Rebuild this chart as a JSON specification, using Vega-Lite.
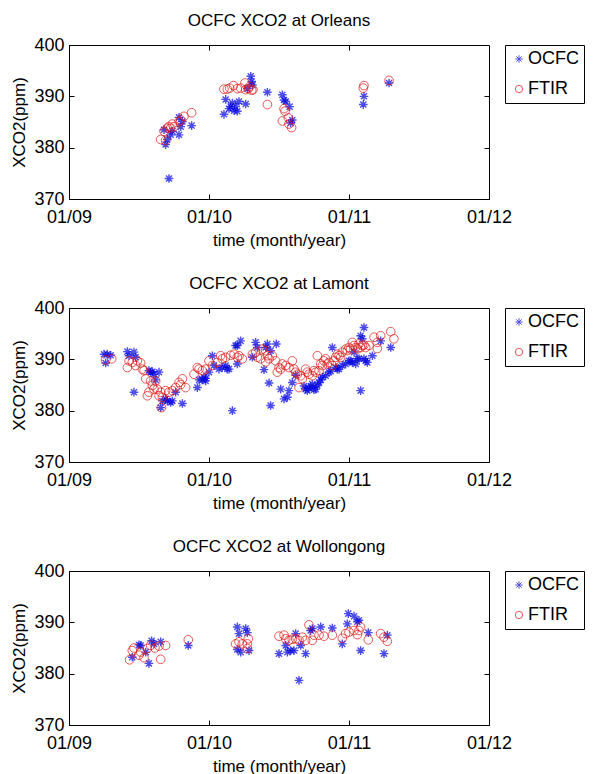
{
"$schema":"https://vega.github.io/schema/vega-lite/v6.json",
"background":"white",
"padding":{"left":10,"top":11,"right":0,"bottom":5},
"config":{
 "font":"Liberation Sans",
 "view":{"stroke":"black","strokeWidth":1},
 "axis":{"grid":false,"domainColor":"black","tickColor":"black","labelColor":"black","titleColor":"black","labelFontSize":18,"titleFontSize":17,"titleFontWeight":"normal","tickSize":-5,"labelFlush":false,"labelOverlap":false},
 "title":{"fontSize":17,"fontWeight":"normal","color":"black","offset":6},
 "legend":{"orient":"right","offset":15,"strokeColor":"black","fillColor":"white","padding":5,"symbolOffset":0,"labelFontSize":18,"labelColor":"black","symbolSize":55,"rowPadding":12,"symbolStrokeWidth":1,"labelOffset":0}
},
"spacing":25,
"resolve":{"legend":{"color":"independent","shape":"independent"}},
"data":{"values":[
{"s":"Orleans","k":"OCFC","t":2009.714,"v":374.0},
{"s":"Orleans","k":"OCFC","t":2009.690,"v":380.6},
{"s":"Orleans","k":"OCFC","t":2009.702,"v":381.6},
{"s":"Orleans","k":"OCFC","t":2009.726,"v":382.5},
{"s":"Orleans","k":"OCFC","t":2009.738,"v":383.2},
{"s":"Orleans","k":"OCFC","t":2009.786,"v":382.5},
{"s":"Orleans","k":"OCFC","t":2009.798,"v":384.1},
{"s":"Orleans","k":"OCFC","t":2009.810,"v":385.1},
{"s":"Orleans","k":"OCFC","t":2009.876,"v":384.3},
{"s":"Orleans","k":"OCFC","t":2009.786,"v":385.9},
{"s":"Orleans","k":"OCFC","t":2009.679,"v":383.5},
{"s":"Orleans","k":"OCFC","t":2010.107,"v":386.5},
{"s":"Orleans","k":"OCFC","t":2010.119,"v":389.4},
{"s":"Orleans","k":"OCFC","t":2010.143,"v":387.6},
{"s":"Orleans","k":"OCFC","t":2010.155,"v":388.0},
{"s":"Orleans","k":"OCFC","t":2010.167,"v":388.7},
{"s":"Orleans","k":"OCFC","t":2010.179,"v":387.2},
{"s":"Orleans","k":"OCFC","t":2010.190,"v":388.0},
{"s":"Orleans","k":"OCFC","t":2010.202,"v":387.1},
{"s":"Orleans","k":"OCFC","t":2010.214,"v":389.0},
{"s":"Orleans","k":"OCFC","t":2010.262,"v":388.5},
{"s":"Orleans","k":"OCFC","t":2010.274,"v":391.5},
{"s":"Orleans","k":"OCFC","t":2010.298,"v":393.9},
{"s":"Orleans","k":"OCFC","t":2010.305,"v":392.9},
{"s":"Orleans","k":"OCFC","t":2010.310,"v":392.2},
{"s":"Orleans","k":"OCFC","t":2010.417,"v":390.8},
{"s":"Orleans","k":"OCFC","t":2010.524,"v":390.3},
{"s":"Orleans","k":"OCFC","t":2010.536,"v":389.3},
{"s":"Orleans","k":"OCFC","t":2010.548,"v":389.0},
{"s":"Orleans","k":"OCFC","t":2010.576,"v":388.0},
{"s":"Orleans","k":"OCFC","t":2010.595,"v":385.4},
{"s":"Orleans","k":"OCFC","t":2010.583,"v":384.8},
{"s":"Orleans","k":"OCFC","t":2011.107,"v":390.0},
{"s":"Orleans","k":"OCFC","t":2011.102,"v":388.4},
{"s":"Orleans","k":"OCFC","t":2011.286,"v":392.6},
{"s":"Orleans","k":"FTIR","t":2009.655,"v":381.6},
{"s":"Orleans","k":"FTIR","t":2009.679,"v":383.2},
{"s":"Orleans","k":"FTIR","t":2009.690,"v":381.4},
{"s":"Orleans","k":"FTIR","t":2009.702,"v":383.8},
{"s":"Orleans","k":"FTIR","t":2009.714,"v":384.1},
{"s":"Orleans","k":"FTIR","t":2009.726,"v":383.8},
{"s":"Orleans","k":"FTIR","t":2009.738,"v":384.6},
{"s":"Orleans","k":"FTIR","t":2009.750,"v":384.1},
{"s":"Orleans","k":"FTIR","t":2009.786,"v":385.1},
{"s":"Orleans","k":"FTIR","t":2009.798,"v":385.4},
{"s":"Orleans","k":"FTIR","t":2009.821,"v":386.1},
{"s":"Orleans","k":"FTIR","t":2009.876,"v":386.8},
{"s":"Orleans","k":"FTIR","t":2010.107,"v":391.4},
{"s":"Orleans","k":"FTIR","t":2010.131,"v":391.4},
{"s":"Orleans","k":"FTIR","t":2010.148,"v":391.6},
{"s":"Orleans","k":"FTIR","t":2010.174,"v":392.1},
{"s":"Orleans","k":"FTIR","t":2010.202,"v":391.5},
{"s":"Orleans","k":"FTIR","t":2010.226,"v":391.6},
{"s":"Orleans","k":"FTIR","t":2010.257,"v":392.6},
{"s":"Orleans","k":"FTIR","t":2010.262,"v":391.3},
{"s":"Orleans","k":"FTIR","t":2010.281,"v":391.5},
{"s":"Orleans","k":"FTIR","t":2010.290,"v":391.9},
{"s":"Orleans","k":"FTIR","t":2010.305,"v":391.2},
{"s":"Orleans","k":"FTIR","t":2010.314,"v":391.3},
{"s":"Orleans","k":"FTIR","t":2010.417,"v":388.4},
{"s":"Orleans","k":"FTIR","t":2010.536,"v":387.6},
{"s":"Orleans","k":"FTIR","t":2010.543,"v":387.1},
{"s":"Orleans","k":"FTIR","t":2010.524,"v":385.2},
{"s":"Orleans","k":"FTIR","t":2010.567,"v":385.8},
{"s":"Orleans","k":"FTIR","t":2010.571,"v":384.6},
{"s":"Orleans","k":"FTIR","t":2010.590,"v":383.9},
{"s":"Orleans","k":"FTIR","t":2011.102,"v":391.6},
{"s":"Orleans","k":"FTIR","t":2011.107,"v":392.1},
{"s":"Orleans","k":"FTIR","t":2011.286,"v":393.1},
{"s":"Lamont","k":"OCFC","t":2009.250,"v":391.0},
{"s":"Lamont","k":"OCFC","t":2009.274,"v":391.0},
{"s":"Lamont","k":"OCFC","t":2009.298,"v":390.8},
{"s":"Lamont","k":"OCFC","t":2009.262,"v":389.3},
{"s":"Lamont","k":"OCFC","t":2009.417,"v":391.5},
{"s":"Lamont","k":"OCFC","t":2009.429,"v":390.7},
{"s":"Lamont","k":"OCFC","t":2009.464,"v":391.4},
{"s":"Lamont","k":"OCFC","t":2009.476,"v":390.4},
{"s":"Lamont","k":"OCFC","t":2009.464,"v":383.6},
{"s":"Lamont","k":"OCFC","t":2009.571,"v":387.8},
{"s":"Lamont","k":"OCFC","t":2009.583,"v":387.5},
{"s":"Lamont","k":"OCFC","t":2009.595,"v":387.6},
{"s":"Lamont","k":"OCFC","t":2009.607,"v":387.1},
{"s":"Lamont","k":"OCFC","t":2009.643,"v":387.5},
{"s":"Lamont","k":"OCFC","t":2009.619,"v":386.0},
{"s":"Lamont","k":"OCFC","t":2009.655,"v":380.6},
{"s":"Lamont","k":"OCFC","t":2009.667,"v":381.9},
{"s":"Lamont","k":"OCFC","t":2009.690,"v":382.3},
{"s":"Lamont","k":"OCFC","t":2009.702,"v":381.9},
{"s":"Lamont","k":"OCFC","t":2009.726,"v":381.6},
{"s":"Lamont","k":"OCFC","t":2009.738,"v":381.9},
{"s":"Lamont","k":"OCFC","t":2009.810,"v":381.4},
{"s":"Lamont","k":"OCFC","t":2009.762,"v":383.6},
{"s":"Lamont","k":"OCFC","t":2009.917,"v":384.5},
{"s":"Lamont","k":"OCFC","t":2009.929,"v":386.0},
{"s":"Lamont","k":"OCFC","t":2009.952,"v":386.0},
{"s":"Lamont","k":"OCFC","t":2009.964,"v":386.5},
{"s":"Lamont","k":"OCFC","t":2009.976,"v":386.3},
{"s":"Lamont","k":"OCFC","t":2009.976,"v":385.8},
{"s":"Lamont","k":"OCFC","t":2010.024,"v":390.7},
{"s":"Lamont","k":"OCFC","t":2010.000,"v":387.5},
{"s":"Lamont","k":"OCFC","t":2010.036,"v":388.8},
{"s":"Lamont","k":"OCFC","t":2010.071,"v":388.1},
{"s":"Lamont","k":"OCFC","t":2010.095,"v":388.4},
{"s":"Lamont","k":"OCFC","t":2010.119,"v":388.8},
{"s":"Lamont","k":"OCFC","t":2010.131,"v":388.1},
{"s":"Lamont","k":"OCFC","t":2010.143,"v":388.1},
{"s":"Lamont","k":"OCFC","t":2010.167,"v":380.0},
{"s":"Lamont","k":"OCFC","t":2010.190,"v":392.7},
{"s":"Lamont","k":"OCFC","t":2010.202,"v":389.1},
{"s":"Lamont","k":"OCFC","t":2010.202,"v":392.7},
{"s":"Lamont","k":"OCFC","t":2010.226,"v":393.6},
{"s":"Lamont","k":"OCFC","t":2010.310,"v":390.4},
{"s":"Lamont","k":"OCFC","t":2010.333,"v":393.3},
{"s":"Lamont","k":"OCFC","t":2010.345,"v":392.3},
{"s":"Lamont","k":"OCFC","t":2010.393,"v":388.0},
{"s":"Lamont","k":"OCFC","t":2010.405,"v":392.3},
{"s":"Lamont","k":"OCFC","t":2010.417,"v":393.0},
{"s":"Lamont","k":"OCFC","t":2010.429,"v":385.4},
{"s":"Lamont","k":"OCFC","t":2010.440,"v":381.0},
{"s":"Lamont","k":"OCFC","t":2010.440,"v":391.7},
{"s":"Lamont","k":"OCFC","t":2010.481,"v":393.0},
{"s":"Lamont","k":"OCFC","t":2010.512,"v":384.2},
{"s":"Lamont","k":"OCFC","t":2010.536,"v":382.3},
{"s":"Lamont","k":"OCFC","t":2010.560,"v":382.6},
{"s":"Lamont","k":"OCFC","t":2010.571,"v":383.9},
{"s":"Lamont","k":"OCFC","t":2010.595,"v":385.5},
{"s":"Lamont","k":"OCFC","t":2010.619,"v":386.9},
{"s":"Lamont","k":"OCFC","t":2010.679,"v":384.8},
{"s":"Lamont","k":"OCFC","t":2010.690,"v":384.2},
{"s":"Lamont","k":"OCFC","t":2010.702,"v":383.9},
{"s":"Lamont","k":"OCFC","t":2010.714,"v":384.4},
{"s":"Lamont","k":"OCFC","t":2010.726,"v":384.7},
{"s":"Lamont","k":"OCFC","t":2010.738,"v":385.2},
{"s":"Lamont","k":"OCFC","t":2010.750,"v":384.1},
{"s":"Lamont","k":"OCFC","t":2010.762,"v":384.2},
{"s":"Lamont","k":"OCFC","t":2010.774,"v":384.9},
{"s":"Lamont","k":"OCFC","t":2010.786,"v":385.5},
{"s":"Lamont","k":"OCFC","t":2010.798,"v":386.0},
{"s":"Lamont","k":"OCFC","t":2010.810,"v":386.5},
{"s":"Lamont","k":"OCFC","t":2010.833,"v":386.8},
{"s":"Lamont","k":"OCFC","t":2010.857,"v":387.5},
{"s":"Lamont","k":"OCFC","t":2010.869,"v":387.7},
{"s":"Lamont","k":"OCFC","t":2010.881,"v":392.3},
{"s":"Lamont","k":"OCFC","t":2010.905,"v":388.4},
{"s":"Lamont","k":"OCFC","t":2010.917,"v":388.1},
{"s":"Lamont","k":"OCFC","t":2010.929,"v":388.1},
{"s":"Lamont","k":"OCFC","t":2010.952,"v":388.8},
{"s":"Lamont","k":"OCFC","t":2010.976,"v":389.1},
{"s":"Lamont","k":"OCFC","t":2011.000,"v":389.7},
{"s":"Lamont","k":"OCFC","t":2011.012,"v":389.7},
{"s":"Lamont","k":"OCFC","t":2011.024,"v":389.4},
{"s":"Lamont","k":"OCFC","t":2011.036,"v":391.4},
{"s":"Lamont","k":"OCFC","t":2011.048,"v":389.1},
{"s":"Lamont","k":"OCFC","t":2011.060,"v":390.1},
{"s":"Lamont","k":"OCFC","t":2011.071,"v":390.1},
{"s":"Lamont","k":"OCFC","t":2011.083,"v":383.9},
{"s":"Lamont","k":"OCFC","t":2011.083,"v":394.6},
{"s":"Lamont","k":"OCFC","t":2011.095,"v":394.0},
{"s":"Lamont","k":"OCFC","t":2011.107,"v":396.2},
{"s":"Lamont","k":"OCFC","t":2011.107,"v":390.1},
{"s":"Lamont","k":"OCFC","t":2011.119,"v":389.7},
{"s":"Lamont","k":"OCFC","t":2011.131,"v":389.4},
{"s":"Lamont","k":"OCFC","t":2011.167,"v":390.7},
{"s":"Lamont","k":"OCFC","t":2011.226,"v":393.6},
{"s":"Lamont","k":"OCFC","t":2011.298,"v":392.3},
{"s":"Lamont","k":"FTIR","t":2009.262,"v":389.9},
{"s":"Lamont","k":"FTIR","t":2009.305,"v":390.1},
{"s":"Lamont","k":"FTIR","t":2009.417,"v":388.4},
{"s":"Lamont","k":"FTIR","t":2009.429,"v":389.7},
{"s":"Lamont","k":"FTIR","t":2009.452,"v":389.4},
{"s":"Lamont","k":"FTIR","t":2009.476,"v":388.8},
{"s":"Lamont","k":"FTIR","t":2009.488,"v":389.7},
{"s":"Lamont","k":"FTIR","t":2009.512,"v":389.3},
{"s":"Lamont","k":"FTIR","t":2009.524,"v":388.1},
{"s":"Lamont","k":"FTIR","t":2009.536,"v":387.8},
{"s":"Lamont","k":"FTIR","t":2009.548,"v":386.2},
{"s":"Lamont","k":"FTIR","t":2009.560,"v":382.9},
{"s":"Lamont","k":"FTIR","t":2009.571,"v":383.6},
{"s":"Lamont","k":"FTIR","t":2009.583,"v":385.8},
{"s":"Lamont","k":"FTIR","t":2009.595,"v":384.9},
{"s":"Lamont","k":"FTIR","t":2009.607,"v":384.2},
{"s":"Lamont","k":"FTIR","t":2009.619,"v":385.8},
{"s":"Lamont","k":"FTIR","t":2009.631,"v":384.2},
{"s":"Lamont","k":"FTIR","t":2009.643,"v":382.9},
{"s":"Lamont","k":"FTIR","t":2009.655,"v":383.6},
{"s":"Lamont","k":"FTIR","t":2009.660,"v":380.6},
{"s":"Lamont","k":"FTIR","t":2009.667,"v":382.6},
{"s":"Lamont","k":"FTIR","t":2009.690,"v":383.9},
{"s":"Lamont","k":"FTIR","t":2009.714,"v":383.6},
{"s":"Lamont","k":"FTIR","t":2009.738,"v":383.9},
{"s":"Lamont","k":"FTIR","t":2009.762,"v":384.5},
{"s":"Lamont","k":"FTIR","t":2009.786,"v":385.5},
{"s":"Lamont","k":"FTIR","t":2009.798,"v":385.1},
{"s":"Lamont","k":"FTIR","t":2009.810,"v":386.2},
{"s":"Lamont","k":"FTIR","t":2009.833,"v":384.5},
{"s":"Lamont","k":"FTIR","t":2009.893,"v":387.1},
{"s":"Lamont","k":"FTIR","t":2009.917,"v":388.4},
{"s":"Lamont","k":"FTIR","t":2009.929,"v":388.1},
{"s":"Lamont","k":"FTIR","t":2009.952,"v":387.8},
{"s":"Lamont","k":"FTIR","t":2009.976,"v":388.1},
{"s":"Lamont","k":"FTIR","t":2010.000,"v":389.7},
{"s":"Lamont","k":"FTIR","t":2010.024,"v":388.8},
{"s":"Lamont","k":"FTIR","t":2010.060,"v":389.4},
{"s":"Lamont","k":"FTIR","t":2010.083,"v":390.7},
{"s":"Lamont","k":"FTIR","t":2010.095,"v":390.1},
{"s":"Lamont","k":"FTIR","t":2010.119,"v":390.4},
{"s":"Lamont","k":"FTIR","t":2010.155,"v":390.8},
{"s":"Lamont","k":"FTIR","t":2010.179,"v":391.0},
{"s":"Lamont","k":"FTIR","t":2010.202,"v":390.4},
{"s":"Lamont","k":"FTIR","t":2010.214,"v":390.7},
{"s":"Lamont","k":"FTIR","t":2010.238,"v":390.1},
{"s":"Lamont","k":"FTIR","t":2010.310,"v":391.0},
{"s":"Lamont","k":"FTIR","t":2010.333,"v":391.4},
{"s":"Lamont","k":"FTIR","t":2010.345,"v":390.4},
{"s":"Lamont","k":"FTIR","t":2010.369,"v":390.1},
{"s":"Lamont","k":"FTIR","t":2010.381,"v":392.0},
{"s":"Lamont","k":"FTIR","t":2010.405,"v":391.7},
{"s":"Lamont","k":"FTIR","t":2010.417,"v":390.7},
{"s":"Lamont","k":"FTIR","t":2010.405,"v":389.5},
{"s":"Lamont","k":"FTIR","t":2010.429,"v":390.1},
{"s":"Lamont","k":"FTIR","t":2010.452,"v":390.7},
{"s":"Lamont","k":"FTIR","t":2010.476,"v":389.7},
{"s":"Lamont","k":"FTIR","t":2010.488,"v":387.5},
{"s":"Lamont","k":"FTIR","t":2010.500,"v":388.4},
{"s":"Lamont","k":"FTIR","t":2010.512,"v":388.1},
{"s":"Lamont","k":"FTIR","t":2010.524,"v":389.1},
{"s":"Lamont","k":"FTIR","t":2010.548,"v":388.8},
{"s":"Lamont","k":"FTIR","t":2010.571,"v":388.4},
{"s":"Lamont","k":"FTIR","t":2010.595,"v":389.7},
{"s":"Lamont","k":"FTIR","t":2010.607,"v":388.1},
{"s":"Lamont","k":"FTIR","t":2010.619,"v":387.5},
{"s":"Lamont","k":"FTIR","t":2010.631,"v":387.1},
{"s":"Lamont","k":"FTIR","t":2010.643,"v":384.5},
{"s":"Lamont","k":"FTIR","t":2010.655,"v":386.8},
{"s":"Lamont","k":"FTIR","t":2010.667,"v":386.2},
{"s":"Lamont","k":"FTIR","t":2010.690,"v":388.1},
{"s":"Lamont","k":"FTIR","t":2010.702,"v":387.5},
{"s":"Lamont","k":"FTIR","t":2010.714,"v":387.1},
{"s":"Lamont","k":"FTIR","t":2010.738,"v":386.8},
{"s":"Lamont","k":"FTIR","t":2010.750,"v":387.8},
{"s":"Lamont","k":"FTIR","t":2010.762,"v":387.5},
{"s":"Lamont","k":"FTIR","t":2010.774,"v":390.7},
{"s":"Lamont","k":"FTIR","t":2010.786,"v":387.8},
{"s":"Lamont","k":"FTIR","t":2010.798,"v":389.1},
{"s":"Lamont","k":"FTIR","t":2010.810,"v":388.8},
{"s":"Lamont","k":"FTIR","t":2010.821,"v":389.7},
{"s":"Lamont","k":"FTIR","t":2010.833,"v":390.1},
{"s":"Lamont","k":"FTIR","t":2010.845,"v":389.1},
{"s":"Lamont","k":"FTIR","t":2010.857,"v":389.4},
{"s":"Lamont","k":"FTIR","t":2010.881,"v":388.8},
{"s":"Lamont","k":"FTIR","t":2010.893,"v":389.7},
{"s":"Lamont","k":"FTIR","t":2010.905,"v":390.4},
{"s":"Lamont","k":"FTIR","t":2010.917,"v":391.0},
{"s":"Lamont","k":"FTIR","t":2010.929,"v":390.7},
{"s":"Lamont","k":"FTIR","t":2010.940,"v":390.4},
{"s":"Lamont","k":"FTIR","t":2010.952,"v":391.4},
{"s":"Lamont","k":"FTIR","t":2010.976,"v":392.0},
{"s":"Lamont","k":"FTIR","t":2010.988,"v":391.7},
{"s":"Lamont","k":"FTIR","t":2011.000,"v":392.3},
{"s":"Lamont","k":"FTIR","t":2011.012,"v":392.0},
{"s":"Lamont","k":"FTIR","t":2011.024,"v":393.3},
{"s":"Lamont","k":"FTIR","t":2011.036,"v":392.7},
{"s":"Lamont","k":"FTIR","t":2011.048,"v":392.3},
{"s":"Lamont","k":"FTIR","t":2011.060,"v":392.0},
{"s":"Lamont","k":"FTIR","t":2011.071,"v":393.0},
{"s":"Lamont","k":"FTIR","t":2011.083,"v":392.3},
{"s":"Lamont","k":"FTIR","t":2011.095,"v":392.7},
{"s":"Lamont","k":"FTIR","t":2011.107,"v":392.8},
{"s":"Lamont","k":"FTIR","t":2011.119,"v":392.3},
{"s":"Lamont","k":"FTIR","t":2011.143,"v":392.7},
{"s":"Lamont","k":"FTIR","t":2011.179,"v":394.3},
{"s":"Lamont","k":"FTIR","t":2011.202,"v":393.3},
{"s":"Lamont","k":"FTIR","t":2011.202,"v":392.1},
{"s":"Lamont","k":"FTIR","t":2011.226,"v":394.6},
{"s":"Lamont","k":"FTIR","t":2011.298,"v":395.4},
{"s":"Lamont","k":"FTIR","t":2011.321,"v":394.0},
{"s":"Wollongong","k":"OCFC","t":2009.452,"v":383.2},
{"s":"Wollongong","k":"OCFC","t":2009.500,"v":385.6},
{"s":"Wollongong","k":"OCFC","t":2009.512,"v":385.5},
{"s":"Wollongong","k":"OCFC","t":2009.548,"v":384.2},
{"s":"Wollongong","k":"OCFC","t":2009.571,"v":382.0},
{"s":"Wollongong","k":"OCFC","t":2009.590,"v":386.4},
{"s":"Wollongong","k":"OCFC","t":2009.607,"v":385.8},
{"s":"Wollongong","k":"OCFC","t":2009.655,"v":386.2},
{"s":"Wollongong","k":"OCFC","t":2009.852,"v":385.5},
{"s":"Wollongong","k":"OCFC","t":2010.202,"v":389.1},
{"s":"Wollongong","k":"OCFC","t":2010.214,"v":387.8},
{"s":"Wollongong","k":"OCFC","t":2010.226,"v":384.2},
{"s":"Wollongong","k":"OCFC","t":2010.262,"v":388.8},
{"s":"Wollongong","k":"OCFC","t":2010.274,"v":388.0},
{"s":"Wollongong","k":"OCFC","t":2010.286,"v":384.5},
{"s":"Wollongong","k":"OCFC","t":2010.202,"v":384.7},
{"s":"Wollongong","k":"OCFC","t":2010.500,"v":383.9},
{"s":"Wollongong","k":"OCFC","t":2010.548,"v":385.5},
{"s":"Wollongong","k":"OCFC","t":2010.560,"v":384.2},
{"s":"Wollongong","k":"OCFC","t":2010.583,"v":384.5},
{"s":"Wollongong","k":"OCFC","t":2010.607,"v":384.5},
{"s":"Wollongong","k":"OCFC","t":2010.619,"v":387.8},
{"s":"Wollongong","k":"OCFC","t":2010.643,"v":378.7},
{"s":"Wollongong","k":"OCFC","t":2010.655,"v":385.5},
{"s":"Wollongong","k":"OCFC","t":2010.690,"v":383.9},
{"s":"Wollongong","k":"OCFC","t":2010.726,"v":388.4},
{"s":"Wollongong","k":"OCFC","t":2010.738,"v":388.8},
{"s":"Wollongong","k":"OCFC","t":2010.798,"v":389.1},
{"s":"Wollongong","k":"OCFC","t":2010.881,"v":388.9},
{"s":"Wollongong","k":"OCFC","t":2010.952,"v":385.8},
{"s":"Wollongong","k":"OCFC","t":2010.988,"v":389.7},
{"s":"Wollongong","k":"OCFC","t":2010.995,"v":391.7},
{"s":"Wollongong","k":"OCFC","t":2011.036,"v":391.2},
{"s":"Wollongong","k":"OCFC","t":2011.060,"v":390.1},
{"s":"Wollongong","k":"OCFC","t":2011.071,"v":390.4},
{"s":"Wollongong","k":"OCFC","t":2011.083,"v":384.5},
{"s":"Wollongong","k":"OCFC","t":2011.138,"v":388.0},
{"s":"Wollongong","k":"OCFC","t":2011.250,"v":383.9},
{"s":"Wollongong","k":"OCFC","t":2011.274,"v":387.5},
{"s":"Wollongong","k":"FTIR","t":2009.433,"v":382.7},
{"s":"Wollongong","k":"FTIR","t":2009.452,"v":384.5},
{"s":"Wollongong","k":"FTIR","t":2009.464,"v":385.0},
{"s":"Wollongong","k":"FTIR","t":2009.500,"v":383.6},
{"s":"Wollongong","k":"FTIR","t":2009.512,"v":384.2},
{"s":"Wollongong","k":"FTIR","t":2009.536,"v":383.1},
{"s":"Wollongong","k":"FTIR","t":2009.560,"v":384.9},
{"s":"Wollongong","k":"FTIR","t":2009.583,"v":385.5},
{"s":"Wollongong","k":"FTIR","t":2009.614,"v":385.0},
{"s":"Wollongong","k":"FTIR","t":2009.643,"v":385.4},
{"s":"Wollongong","k":"FTIR","t":2009.690,"v":385.5},
{"s":"Wollongong","k":"FTIR","t":2009.655,"v":382.8},
{"s":"Wollongong","k":"FTIR","t":2009.852,"v":386.6},
{"s":"Wollongong","k":"FTIR","t":2010.190,"v":385.8},
{"s":"Wollongong","k":"FTIR","t":2010.214,"v":386.2},
{"s":"Wollongong","k":"FTIR","t":2010.238,"v":385.8},
{"s":"Wollongong","k":"FTIR","t":2010.274,"v":385.8},
{"s":"Wollongong","k":"FTIR","t":2010.281,"v":386.8},
{"s":"Wollongong","k":"FTIR","t":2010.274,"v":384.9},
{"s":"Wollongong","k":"FTIR","t":2010.500,"v":387.3},
{"s":"Wollongong","k":"FTIR","t":2010.536,"v":387.5},
{"s":"Wollongong","k":"FTIR","t":2010.548,"v":386.8},
{"s":"Wollongong","k":"FTIR","t":2010.571,"v":386.5},
{"s":"Wollongong","k":"FTIR","t":2010.595,"v":386.7},
{"s":"Wollongong","k":"FTIR","t":2010.619,"v":386.8},
{"s":"Wollongong","k":"FTIR","t":2010.643,"v":386.5},
{"s":"Wollongong","k":"FTIR","t":2010.667,"v":387.1},
{"s":"Wollongong","k":"FTIR","t":2010.690,"v":386.5},
{"s":"Wollongong","k":"FTIR","t":2010.714,"v":389.5},
{"s":"Wollongong","k":"FTIR","t":2010.738,"v":386.5},
{"s":"Wollongong","k":"FTIR","t":2010.750,"v":387.5},
{"s":"Wollongong","k":"FTIR","t":2010.786,"v":387.5},
{"s":"Wollongong","k":"FTIR","t":2010.821,"v":387.3},
{"s":"Wollongong","k":"FTIR","t":2010.881,"v":387.5},
{"s":"Wollongong","k":"FTIR","t":2010.952,"v":386.9},
{"s":"Wollongong","k":"FTIR","t":2010.976,"v":387.8},
{"s":"Wollongong","k":"FTIR","t":2011.000,"v":388.1},
{"s":"Wollongong","k":"FTIR","t":2011.036,"v":388.4},
{"s":"Wollongong","k":"FTIR","t":2011.060,"v":387.6},
{"s":"Wollongong","k":"FTIR","t":2011.071,"v":388.4},
{"s":"Wollongong","k":"FTIR","t":2011.083,"v":389.1},
{"s":"Wollongong","k":"FTIR","t":2011.138,"v":386.6},
{"s":"Wollongong","k":"FTIR","t":2011.226,"v":387.8},
{"s":"Wollongong","k":"FTIR","t":2011.250,"v":387.1},
{"s":"Wollongong","k":"FTIR","t":2011.274,"v":386.3}
]},
"vconcat":[
 {"title":"OCFC XCO2 at Orleans","width":420,"height":154,
  "transform":[{"filter":"datum.s === 'Orleans'"}],
  "resolve":{"axis":{"x":"independent","y":"independent"}},
  "layer":[
   {"mark":{"type":"point","filled":false,"size":75},
    "encoding":{
     "x":{"field":"t","type":"quantitative","scale":{"domain":[2009,2012],"nice":false,"zero":false},"axis":{"values":[2009,2010,2011,2012],"labelExpr":"'01/' + slice(toString(datum.value), 2)","title":"time (month/year)","labelPadding":14,"titlePadding":6}},
     "y":{"field":"v","type":"quantitative","scale":{"domain":[370,400],"nice":false,"zero":false},"axis":{"values":[370,380,390,400],"title":"XCO2(ppm)","labelPadding":10,"titlePadding":5}},
     "shape":{"field":"k","type":"nominal","scale":{"domain":["OCFC","FTIR"],"range":["M0,-1L0,1M-1,0L1,0M-0.7,-0.7L0.7,0.7M-0.7,0.7L0.7,-0.7","circle"]},"legend":{"title":null}},
     "color":{"field":"k","type":"nominal","scale":{"domain":["OCFC","FTIR"],"range":["#0000dd","#dd1111"]},"legend":{"title":null}},
     "strokeWidth":{"field":"k","type":"nominal","scale":{"domain":["OCFC","FTIR"],"range":[1.4,1]},"legend":null}
    }},
   {"mark":{"type":"point","opacity":0},
    "encoding":{
     "x":{"field":"t","type":"quantitative","axis":{"orient":"top","values":[2010,2011],"labels":false,"title":null,"domain":false}},
     "y":{"field":"v","type":"quantitative","axis":{"orient":"right","values":[380,390],"labels":false,"title":null,"domain":false}}
    }}
  ]},
 {"title":"OCFC XCO2 at Lamont","width":420,"height":154,
  "transform":[{"filter":"datum.s === 'Lamont'"}],
  "resolve":{"axis":{"x":"independent","y":"independent"}},
  "layer":[
   {"mark":{"type":"point","filled":false,"size":75},
    "encoding":{
     "x":{"field":"t","type":"quantitative","scale":{"domain":[2009,2012],"nice":false,"zero":false},"axis":{"values":[2009,2010,2011,2012],"labelExpr":"'01/' + slice(toString(datum.value), 2)","title":"time (month/year)","labelPadding":14,"titlePadding":6}},
     "y":{"field":"v","type":"quantitative","scale":{"domain":[370,400],"nice":false,"zero":false},"axis":{"values":[370,380,390,400],"title":"XCO2(ppm)","labelPadding":10,"titlePadding":5}},
     "shape":{"field":"k","type":"nominal","scale":{"domain":["OCFC","FTIR"],"range":["M0,-1L0,1M-1,0L1,0M-0.7,-0.7L0.7,0.7M-0.7,0.7L0.7,-0.7","circle"]},"legend":{"title":null}},
     "color":{"field":"k","type":"nominal","scale":{"domain":["OCFC","FTIR"],"range":["#0000dd","#dd1111"]},"legend":{"title":null}},
     "strokeWidth":{"field":"k","type":"nominal","scale":{"domain":["OCFC","FTIR"],"range":[1.4,1]},"legend":null}
    }},
   {"mark":{"type":"point","opacity":0},
    "encoding":{
     "x":{"field":"t","type":"quantitative","axis":{"orient":"top","values":[2010,2011],"labels":false,"title":null,"domain":false}},
     "y":{"field":"v","type":"quantitative","axis":{"orient":"right","values":[380,390],"labels":false,"title":null,"domain":false}}
    }}
  ]},
 {"title":"OCFC XCO2 at Wollongong","width":420,"height":154,
  "transform":[{"filter":"datum.s === 'Wollongong'"}],
  "resolve":{"axis":{"x":"independent","y":"independent"}},
  "layer":[
   {"mark":{"type":"point","filled":false,"size":75},
    "encoding":{
     "x":{"field":"t","type":"quantitative","scale":{"domain":[2009,2012],"nice":false,"zero":false},"axis":{"values":[2009,2010,2011,2012],"labelExpr":"'01/' + slice(toString(datum.value), 2)","title":"time (month/year)","labelPadding":14,"titlePadding":6}},
     "y":{"field":"v","type":"quantitative","scale":{"domain":[370,400],"nice":false,"zero":false},"axis":{"values":[370,380,390,400],"title":"XCO2(ppm)","labelPadding":10,"titlePadding":5}},
     "shape":{"field":"k","type":"nominal","scale":{"domain":["OCFC","FTIR"],"range":["M0,-1L0,1M-1,0L1,0M-0.7,-0.7L0.7,0.7M-0.7,0.7L0.7,-0.7","circle"]},"legend":{"title":null}},
     "color":{"field":"k","type":"nominal","scale":{"domain":["OCFC","FTIR"],"range":["#0000dd","#dd1111"]},"legend":{"title":null}},
     "strokeWidth":{"field":"k","type":"nominal","scale":{"domain":["OCFC","FTIR"],"range":[1.4,1]},"legend":null}
    }},
   {"mark":{"type":"point","opacity":0},
    "encoding":{
     "x":{"field":"t","type":"quantitative","axis":{"orient":"top","values":[2010,2011],"labels":false,"title":null,"domain":false}},
     "y":{"field":"v","type":"quantitative","axis":{"orient":"right","values":[380,390],"labels":false,"title":null,"domain":false}}
    }}
  ]}
]
}
